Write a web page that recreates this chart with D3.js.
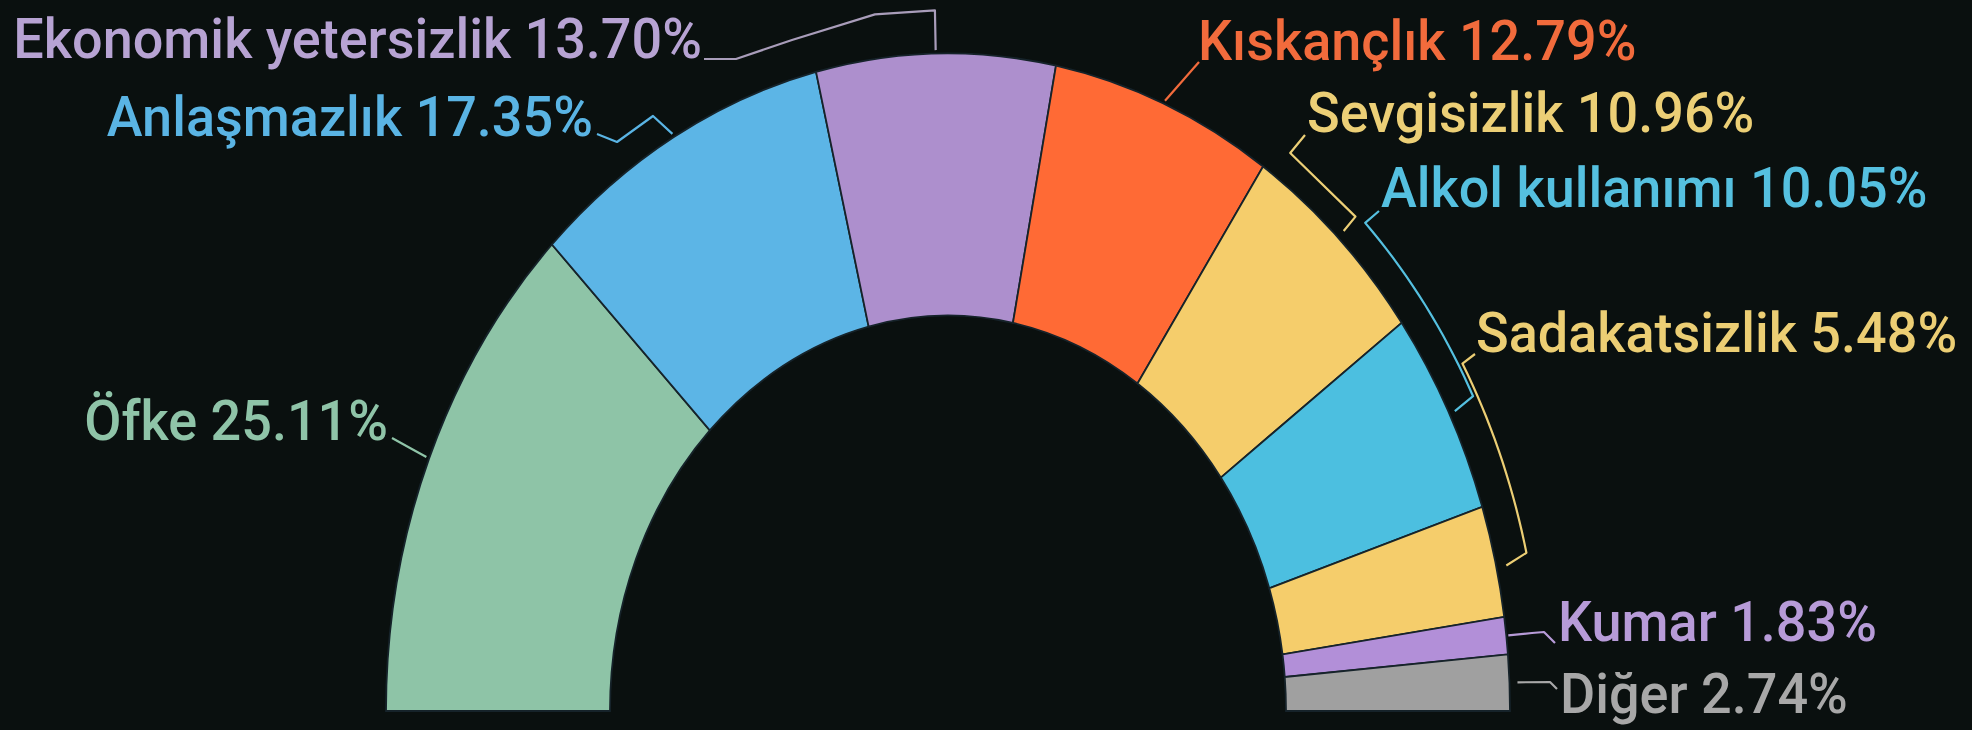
<!DOCTYPE html>
<html>
<head>
<meta charset="UTF-8">
<title>Boşanma nedenleri</title>
<script src="https://d3js.org/d3.v7.min.js"></script>
<style>
    html, body { margin: 0; padding: 0; background: #0a100f; }
    svg { display: block; }
    text { font-family: Roboto, "Noto Sans", sans-serif; font-weight: 500; }
</style>
</head>
<body>
<svg id="chart"></svg>
<script>
// data
const categories = ["Öfke", "Anlaşmazlık", "Ekonomik yetersizlik", "Kıskançlık", "Sevgisizlik",
    "Alkol kullanımı", "Sadakatsizlik", "Kumar", "Diğer"];
const values = [25.11, 17.35, 13.70, 12.79, 10.96, 10.05, 5.48, 1.83, 2.74];
const sliceColors = ["#8ec4a7", "#5cb5e6", "#ad8fcd", "#ff6a35", "#f5cd6b", "#4cbfe0", "#f5cd6b", "#b28fd8", "#a0a0a0"];
const labelColors = ["#8fc4a8", "#5ab4e4", "#b7a3d3", "#f26b3c", "#eccf76", "#55c0e0", "#ecce74", "#b79bd8", "#a8a8a8"];

const width = 1972, height = 730;
// the donut is a half circle stretched vertically
const cx = 948, cy = 711, outerR = 562, innerR = 338, k = 1.17;
const fontSize = 54, textK = 1.02;

// label anchors: [x, baseline, anchor]
const labelPos = [
    [388, 440, "end"], [593, 136, "end"], [702, 58, "end"],
    [1198, 60, "start"], [1307, 132, "start"], [1381, 207, "start"],
    [1476, 352, "start"], [1558, 641, "start"], [1560, 713, "start"]
];

const svg = d3.select("#chart")
    .attr("width", width)
    .attr("height", height);

const pie = d3.pie()
    .sort(null)
    .value(d => d)
    .startAngle(-Math.PI / 2)
    .endAngle(Math.PI / 2);
const arcs = pie(values);

const arc = d3.arc()
    .innerRadius(innerR)
    .outerRadius(outerR);

svg.append("g")
    .attr("transform", "translate(" + cx + "," + cy + ") scale(1," + k + ")")
    .selectAll("path")
    .data(arcs)
    .join("path")
    .attr("d", arc)
    .attr("fill", (d, i) => sliceColors[i])
    .attr("stroke", "#16232a")
    .attr("stroke-width", 1.8)
    .attr("vector-effect", "non-scaling-stroke");

// point on the stretched circle, angle in degrees from the top
function polar(deg, r) {
    const a = deg * Math.PI / 180;
    return [cx + r * Math.sin(a), cy - k * r * Math.cos(a)];
}
const mid = arcs.map(d => (d.startAngle + d.endAngle) / 2 * 180 / Math.PI);

// leader lines, built from slice angles and label anchors
const leaders = [
    (m, p) => [[p[0] + 4, p[1] - 2], [p[0] + 22, p[1] + 8], polar(m, outerR + 3)],
    (m, p) => [[p[0] + 4, p[1] - 2], [p[0] + 24, p[1] + 6], [p[0] + 60, p[1] - 20], polar(m, outerR + 3)],
    (m, p) => {
        const top = polar(m, outerR + 37);
        return [[p[0] + 2, p[1] + 1], [p[0] + 34, p[1] + 1], [p[0] + 90, p[1] - 18],
            [top[0] - 60, top[1] + 4], top, polar(m, outerR + 3)];
    },
    (m, p) => [polar(m, outerR + 3), [p[0] + 1, p[1] + 2]],
    (m, p) => [[p[0] - 2, p[1] + 3], polar(m - 8.3, outerR + 25), polar(m, outerR + 25), polar(m, outerR + 8)],
    (m, p) => {
        const pts = [[p[0] - 2, p[1] + 4]];
        for (let a = 45; a <= m; a += 1) pts.push(polar(a, outerR + 28));
        pts.push(polar(m, outerR + 28), polar(m + 0.3, outerR + 6));
        return pts;
    },
    (m, p) => {
        const pts = [[p[0] - 1, p[1] + 2]];
        for (let a = 60; a <= m; a += 1) pts.push(polar(a, outerR + 32));
        pts.push(polar(m, outerR + 32), polar(m + 0.6, outerR + 10));
        return pts;
    },
    (m, p) => [polar(m, outerR + 2), [p[0] - 26, p[1] - 8], [p[0] - 14, p[1] - 9], [p[0] - 3, p[1] + 2]],
    (m, p) => [polar(m, outerR + 8), [p[0] - 10, p[1] - 31], [p[0] - 3, p[1] - 24]]
];

const line = d3.line();
svg.append("g")
    .selectAll("path")
    .data(arcs)
    .join("path")
    .attr("d", (d, i) => line(leaders[i](mid[i], labelPos[i])))
    .attr("fill", "none")
    .attr("stroke", (d, i) => i === 2 ? "#a99dba" : labelColors[i])
    .attr("stroke-width", 2.2)
    .attr("stroke-linejoin", "round");

// labels
svg.append("g")
    .selectAll("text")
    .data(arcs)
    .join("text")
    .attr("transform", (d, i) => "translate(" + labelPos[i][0] + "," + labelPos[i][1] + ") scale(1," + textK + ")")
    .attr("text-anchor", (d, i) => labelPos[i][2])
    .attr("font-size", fontSize)
    .attr("fill", (d, i) => labelColors[i])
    .text((d, i) => categories[i] + " " + values[i].toFixed(2) + "%");
</script>
</body>
</html>
